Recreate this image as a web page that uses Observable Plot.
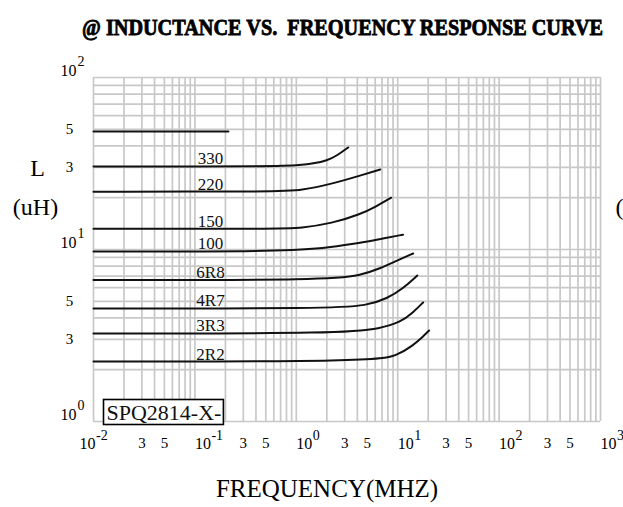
<!DOCTYPE html>
<html>
<head>
<meta charset="utf-8">
<script src="https://cdn.jsdelivr.net/npm/d3@7"></script>
<script src="https://cdn.jsdelivr.net/npm/@observablehq/plot@0.6"></script>
<style>
  body { margin: 0; background: #fff; }
  #title { display: block; }
  #chart svg { display: block; }
</style>
</head>
<body>
<svg id="title" width="623" height="45">
  <text transform="translate(82,35) scale(1,1.2)" x="0" y="0" textLength="521" lengthAdjust="spacingAndGlyphs"
        font-family="'Liberation Serif', 'Times New Roman', serif" font-weight="bold" font-size="20"
        stroke="#000" stroke-width="0.7" fill="#000" style="white-space:pre">@ INDUCTANCE VS.  FREQUENCY RESPONSE CURVE</text>
</svg>
<div id="chart"></div>
<script>
// ---- data ----
const seriesNames = ["330", "220", "150", "100", "6R8", "4R7", "3R3", "2R2"];

const freq330 = [0.01, 0.695, 1.09, 1.47, 2.02, 2.53, 3.25];
const ind330  = [30.4, 30.4, 31.0, 31.6, 32.9, 35.2, 39.2];
const freq220 = [0.01, 0.695, 1.09, 2.32, 4.27, 6.73];
const ind220  = [21.7, 21.7, 22.0, 24.2, 26.9, 29.2];
const freq150 = [0.01, 0.695, 1.09, 2.26, 4.27, 6.14, 8.63];
const ind150  = [13.2, 13.2, 13.3, 14.2, 16.0, 17.8, 20.0];
const freq100 = [0.01, 0.873, 2.16, 4.27, 6.73, 11.3];
const ind100  = [9.73, 9.73, 10.3, 10.9, 11.5, 12.2];
const freq6R8 = [0.01, 2.16, 4.27, 6.73, 9.89, 14.2];
const ind6R8  = [6.65, 6.65, 7.06, 7.76, 8.63, 9.48];
const freq4R7 = [0.01, 2.16, 5.0, 7.88, 11.3, 15.6];
const ind4R7  = [4.54, 4.54, 4.72, 5.19, 5.93, 7.06];
const freq3R3 = [0.01, 3.18, 6.73, 10.6, 14.2, 17.8];
const ind3R3  = [3.25, 3.25, 3.48, 3.77, 4.31, 4.92];
const freq2R2 = [0.01, 5.74, 9.89, 14.2, 17.8, 20.4];
const ind2R2  = [2.23, 2.23, 2.42, 2.77, 3.12, 3.38];

// unlabeled partial line near the top
const freqPartial = [0.01, 0.214];
const indPartial  = [48.5, 48.5];

const modelLabel = ["SPQ2814-X-"];

// tick labels
const xDecades = [0.01, 0.1, 1, 10, 100, 1000];
const xDecadeExp = ["-2", "-1", "0", "1", "2", "3"];
const xMinor = [0.03, 0.05, 0.3, 0.5, 3, 5, 30, 50, 300, 500];
const xMinorLabels = ["3", "5", "3", "5", "3", "5", "3", "5", "3", "5"];
const yDecades = [100, 10, 1];
const yDecadeExp = ["2", "1", "0"];
const yMinor = [50, 30, 5, 3];
const yMinorLabels = ["5", "3", "5", "3"];

// ---- build tables ----
const freqs = [freq330, freq220, freq150, freq100, freq6R8, freq4R7, freq3R3, freq2R2];
const inds  = [ind330, ind220, ind150, ind100, ind6R8, ind4R7, ind3R3, ind2R2];
const curves = seriesNames.flatMap((s, i) => freqs[i].map((f, j) => ({series: s, f, L: inds[i][j]})));
const curveLabels = seriesNames.map((s, i) => ({series: s, L: inds[i][0]}));
const partial = freqPartial.map((f, j) => ({f, L: indPartial[j]}));

// log grid: 1..9 per decade
const xGrid = [];
for (let e = -2; e < 3; e++) for (let m = 1; m < 10; m++) xGrid.push(m * Math.pow(10, e));
xGrid.push(1000);
const yGrid = [];
for (let e = 0; e < 2; e++) for (let m = 1; m < 10; m++) yGrid.push(m * Math.pow(10, e));
yGrid.push(100);

const xDec = xDecades.map((v, i) => ({v, e: xDecadeExp[i]}));
const xMin = xMinor.map((v, i) => ({v, t: xMinorLabels[i]}));
const yDec = yDecades.map((v, i) => ({v, e: yDecadeExp[i]}));
const yMin = yMinor.map((v, i) => ({v, t: yMinorLabels[i]}));

const serif = "'Liberation Serif', 'Times New Roman', serif";

const chart = Plot.plot({
  width: 623,
  height: 462,
  marginTop: 32,
  marginLeft: 93,
  marginRight: 23,
  marginBottom: 86,
  style: {fontFamily: serif, background: "#fff", color: "#000"},
  x: {type: "log", domain: [0.01, 1000], axis: null},
  y: {type: "log", domain: [1, 100], axis: null},
  marks: [
    Plot.ruleX(xGrid, {stroke: "#c8c8c8", strokeWidth: 1.7}),
    Plot.ruleY(yGrid, {stroke: "#c8c8c8", strokeWidth: 1.7}),
    Plot.line(curves, {x: "f", y: "L", z: "series", curve: "basis", stroke: "#111", strokeWidth: 2}),
    Plot.line(partial, {x: "f", y: "L", stroke: "#111", strokeWidth: 2}),
    Plot.text(curveLabels, {y: "L", text: "series", frameAnchor: "left", dx: 117, dy: -7.5,
      textAnchor: "middle", lineAnchor: "middle", fontSize: 17, fill: "#111"}),
    // model label (box added below)
    Plot.text(modelLabel, {text: d => d, frameAnchor: "bottom-left", dx: 13, dy: -2,
      textAnchor: "start", lineAnchor: "bottom", fontSize: 22, fill: "#111"}),
    // x tick labels
    Plot.text(xMin, {x: "v", text: "t", frameAnchor: "bottom", dy: 22, textAnchor: "middle", lineAnchor: "middle", fontSize: 15}),
    Plot.text(xDec.slice(0, 1), {x: "v", text: () => "10", frameAnchor: "bottom", dx: -14, dy: 22, textAnchor: "start", lineAnchor: "middle", fontSize: 16}),
    Plot.text(xDec.slice(1), {x: "v", text: () => "10", frameAnchor: "bottom", dx: 0, dy: 22, textAnchor: "start", lineAnchor: "middle", fontSize: 16}),
    Plot.text(xDec.slice(0, 1), {x: "v", text: "e", frameAnchor: "bottom", dx: 2.5, dy: 14, textAnchor: "start", lineAnchor: "middle", fontSize: 14}),
    Plot.text(xDec.slice(1), {x: "v", text: "e", frameAnchor: "bottom", dx: 16.5, dy: 14, textAnchor: "start", lineAnchor: "middle", fontSize: 14}),
    // y tick labels
    Plot.text(yMin, {y: "v", text: "t", frameAnchor: "left", dx: -24, dy: 0, textAnchor: "middle", lineAnchor: "middle", fontSize: 15}),
    Plot.text(yDec, {y: "v", text: () => "10", frameAnchor: "left", dx: -33, dy: -7, textAnchor: "start", lineAnchor: "middle", fontSize: 16}),
    Plot.text(yDec, {y: "v", text: "e", frameAnchor: "left", dx: -16, dy: -16, textAnchor: "start", lineAnchor: "middle", fontSize: 14}),
    // axis titles
    Plot.text(["L"], {text: d => d, frameAnchor: "left", dx: -56, dy: -81, textAnchor: "middle", lineAnchor: "middle", fontSize: 24}),
    Plot.text(["(uH)"], {text: d => d, frameAnchor: "left", dx: -58, dy: -42, textAnchor: "middle", lineAnchor: "middle", fontSize: 24}),
    Plot.text(["("], {text: d => d, frameAnchor: "right", dx: 19, dy: -42, textAnchor: "middle", lineAnchor: "middle", fontSize: 24}),
    Plot.text(["FREQUENCY(MHZ)"], {text: d => d, frameAnchor: "bottom", dx: -20, dy: 67, textAnchor: "middle", lineAnchor: "middle", fontSize: 25})
  ]
});
document.getElementById("chart").appendChild(chart);

// draw a box behind the model label
const t = Array.from(chart.querySelectorAll("text")).find(el => el.textContent === modelLabel[0]);
if (t) {
  const bb = t.getBBox();
  const r = document.createElementNS("http://www.w3.org/2000/svg", "rect");
  r.setAttribute("x", bb.x - 3);
  r.setAttribute("y", bb.y);
  r.setAttribute("width", bb.width + 5);
  r.setAttribute("height", bb.height);
  r.setAttribute("fill", "#fff");
  r.setAttribute("stroke", "#000");
  r.setAttribute("stroke-width", "1.6");
  if (t.getAttribute("transform")) r.setAttribute("transform", t.getAttribute("transform"));
  t.parentNode.insertBefore(r, t);
}
</script>
</body>
</html>
